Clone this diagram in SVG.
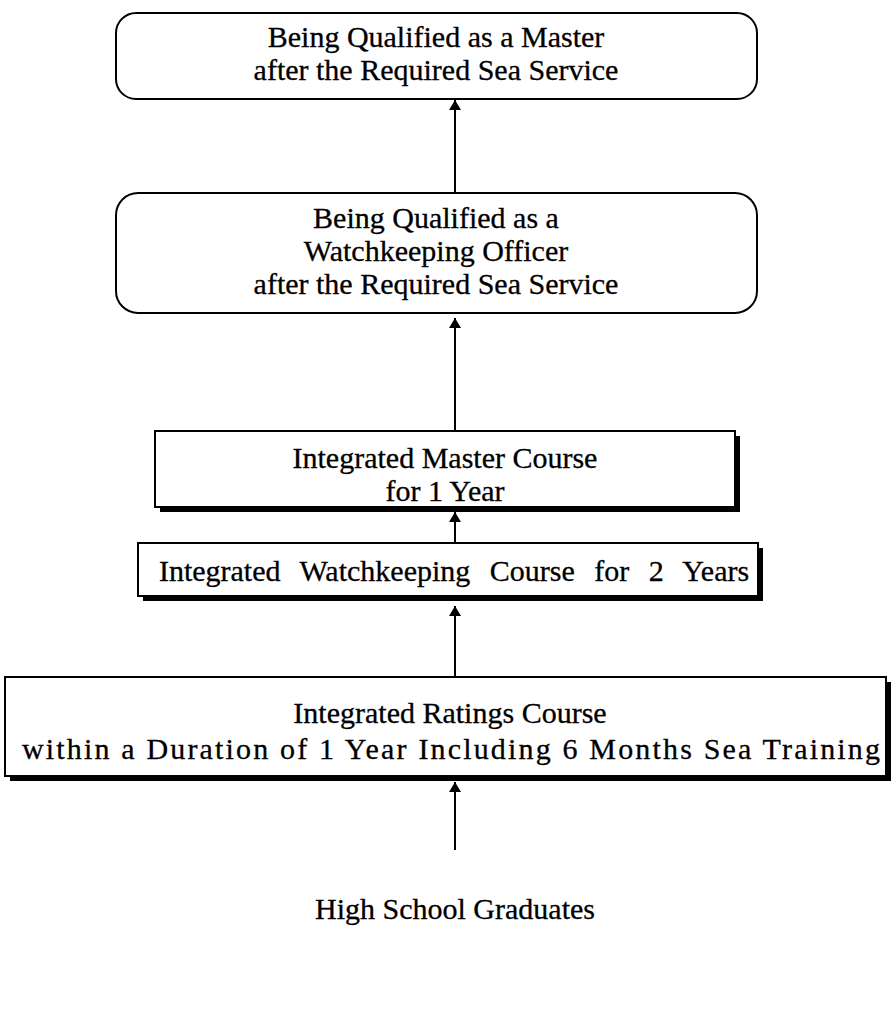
<svg xmlns="http://www.w3.org/2000/svg" width="894" height="1016" viewBox="0 0 894 1016">
<defs>
<style>
.box{fill:#fff;stroke:#000;stroke-width:2}
.sh{fill:#000}
.t{font-family:"Liberation Serif","Times New Roman",serif;font-size:30px;fill:#000;stroke:#000;stroke-width:0.3;text-anchor:middle}
.ln{stroke:#000;stroke-width:2;fill:none}
</style>
<marker id="ah" viewBox="0 0 10 12" refX="10" refY="6" markerWidth="10" markerHeight="12" markerUnits="userSpaceOnUse" orient="auto">
<path d="M0,0 L10,6 L0,12 Z" fill="#000"/>
</marker>
</defs>
<rect width="894" height="1016" fill="#fff"/>
<g id="connectors">
<line class="ln" x1="455" y1="193" x2="455" y2="100" marker-end="url(#ah)"/>
<line class="ln" x1="455" y1="431" x2="455" y2="318" marker-end="url(#ah)"/>
<line class="ln" x1="455" y1="543" x2="455" y2="512" marker-end="url(#ah)"/>
<line class="ln" x1="455" y1="677" x2="455" y2="606" marker-end="url(#ah)"/>
<line class="ln" x1="455" y1="850" x2="455" y2="782" marker-end="url(#ah)"/>
</g>
<g id="node-master">
<rect class="box" x="116" y="13" width="641" height="86" rx="20"/>
<text class="t" x="436" y="47">Being Qualified as a Master</text>
<text class="t" x="436" y="80">after the Required Sea Service</text>
</g>
<g id="node-officer">
<rect class="box" x="116" y="193" width="641" height="120" rx="22"/>
<text class="t" x="436" y="228">Being Qualified as a</text>
<text class="t" x="436" y="261">Watchkeeping Officer</text>
<text class="t" x="436" y="294">after the Required Sea Service</text>
</g>
<g id="node-master-course">
<rect class="sh" x="160" y="436" width="580" height="76"/>
<rect class="box" x="155" y="431" width="580" height="76"/>
<text class="t" x="445" y="468">Integrated Master Course</text>
<text class="t" x="445" y="501">for 1 Year</text>
</g>
<g id="node-watch-course">
<rect class="sh" x="143" y="548" width="620" height="53"/>
<rect class="box" x="138" y="543" width="620" height="53"/>
<text class="t" x="454" y="581" word-spacing="12">Integrated Watchkeeping Course for 2 Years</text>
</g>
<g id="node-ratings">
<rect class="sh" x="10" y="682" width="881" height="99"/>
<rect class="box" x="5" y="677" width="881" height="99"/>
<text class="t" x="450" y="723">Integrated Ratings Course</text>
<text class="t" x="451" y="759" textLength="858" lengthAdjust="spacing">within a Duration of 1 Year Including 6 Months Sea Training</text>
</g>
<g id="node-hs">
<text class="t" x="455" y="919">High School Graduates</text>
</g>
</svg>
